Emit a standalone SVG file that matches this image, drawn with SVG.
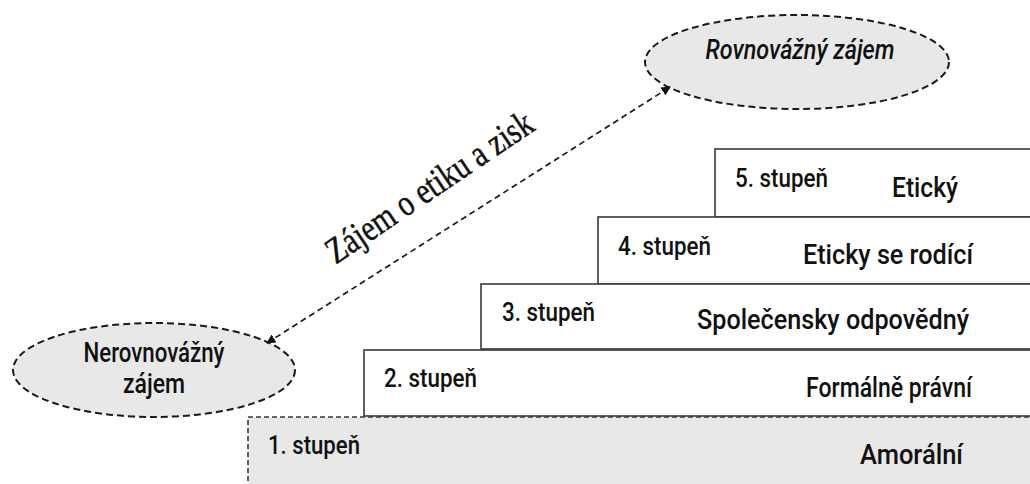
<svg xmlns="http://www.w3.org/2000/svg" width="1030" height="484" viewBox="0 0 1030 484">
<style>
.box{fill:#ffffff;stroke:#3a3a3a;stroke-width:1.6}
.box1{fill:#e8e8e8;stroke:#3a3a3a;stroke-width:1.6;stroke-dasharray:5,3}
.ell{fill:#e8e8e8;stroke:#1a1a1a;stroke-width:2;stroke-dasharray:7,4}
.lbl{font-family:Roboto,"Liberation Sans",sans-serif;font-size:25px;font-weight:500;fill:#111}
.ttl{font-family:Roboto,"Liberation Sans",sans-serif;font-size:27px;font-weight:500;fill:#111}
.conn{fill:none;stroke:#1a1a1a;stroke-width:1.7;stroke-dasharray:6,4}
.diag{font-family:"Liberation Serif",serif;font-size:37px;fill:#111;stroke:#111;stroke-width:0.5}
</style>
<defs>
<marker id="ah" viewBox="0 0 10 10" refX="9" refY="5" markerWidth="5.5" markerHeight="5.5" orient="auto-start-reverse" markerUnits="strokeWidth">
<path d="M0,0 L10,5 L0,10 z" fill="#111"/>
</marker>
</defs>
<rect width="1030" height="484" fill="#ffffff"/>

<g id="step5">
<rect class="box" x="715" y="149" width="330" height="68"/>
<text class="lbl" x="735" y="187" textLength="93" lengthAdjust="spacingAndGlyphs">5. stupeň</text>
<text class="ttl" x="892" y="197" textLength="66" lengthAdjust="spacingAndGlyphs">Etický</text>
</g>
<g id="step4">
<rect class="box" x="598" y="217" width="450" height="67"/>
<text class="lbl" x="618" y="255" textLength="93" lengthAdjust="spacingAndGlyphs">4. stupeň</text>
<text class="ttl" x="803" y="264" textLength="170" lengthAdjust="spacingAndGlyphs">Eticky se rodící</text>
</g>
<g id="step3">
<rect class="box" x="481" y="284" width="570" height="65"/>
<text class="lbl" x="502" y="321" textLength="93" lengthAdjust="spacingAndGlyphs">3. stupeň</text>
<text class="ttl" x="697" y="329" textLength="272" lengthAdjust="spacingAndGlyphs">Společensky odpovědný</text>
</g>
<g id="step2">
<rect class="box" x="364" y="350" width="690" height="66"/>
<text class="lbl" x="384" y="387" textLength="93" lengthAdjust="spacingAndGlyphs">2. stupeň</text>
<text class="ttl" x="806" y="397" textLength="166" lengthAdjust="spacingAndGlyphs">Formálně právní</text>
</g>
<g id="step1">
<rect class="box1" x="248" y="417" width="800" height="80"/>
<text class="lbl" x="268" y="454" textLength="92" lengthAdjust="spacingAndGlyphs">1. stupeň</text>
<text class="ttl" x="860" y="464" textLength="103" lengthAdjust="spacingAndGlyphs">Amorální</text>
</g>

<g id="nerovnovazny">
<ellipse class="ell" cx="154" cy="370" rx="141" ry="47"/>
<text class="ttl" x="154" y="362" text-anchor="middle" textLength="141" lengthAdjust="spacingAndGlyphs">Nerovnovážný</text>
<text class="ttl" x="154" y="393" text-anchor="middle" textLength="62" lengthAdjust="spacingAndGlyphs">zájem</text>
</g>
<g id="rovnovazny">
<ellipse class="ell" cx="797" cy="62" rx="152" ry="47"/>
<text class="ttl" x="800" y="59" text-anchor="middle" font-style="italic" textLength="189" lengthAdjust="spacingAndGlyphs">Rovnovážný zájem</text>
</g>

<g id="connectors">
<line class="conn" x1="267" y1="343" x2="670" y2="87" marker-start="url(#ah)" marker-end="url(#ah)"/>
<text class="diag" x="436" y="197" text-anchor="middle" transform="rotate(-34 436 197)" textLength="242" lengthAdjust="spacingAndGlyphs">Zájem o etiku a zisk</text>
</g>
</svg>
